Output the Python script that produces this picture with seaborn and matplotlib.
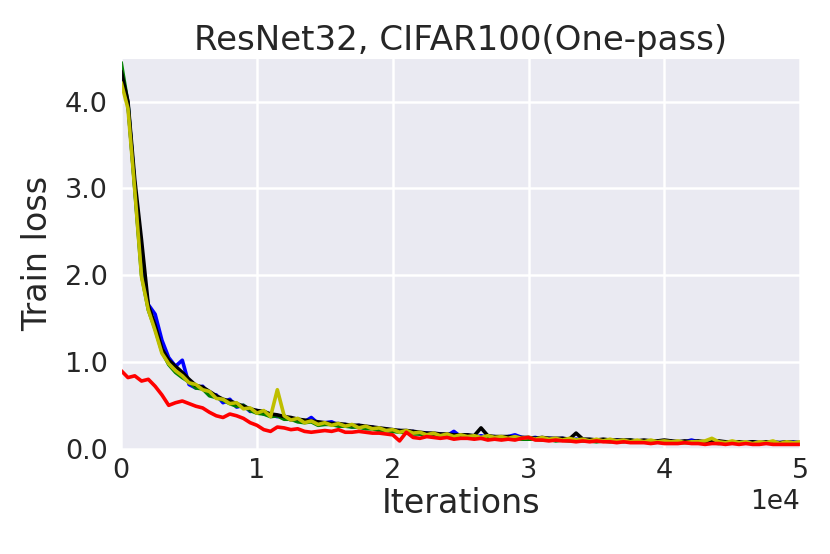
import numpy as np
import matplotlib
matplotlib.use('Agg')
import matplotlib.pyplot as plt
import seaborn as sns

# Iterations (every 500 steps)
iters = np.arange(0, 50001, 500)

blue = [4.30, 3.97, 3.02, 2.05, 1.66, 1.55, 1.25, 1.05, 0.95, 1.02, 0.74,
        0.70, 0.72, 0.62, 0.62, 0.53, 0.57, 0.48, 0.50, 0.43, 0.44,
        0.40, 0.39, 0.37, 0.38, 0.33, 0.34, 0.31, 0.36, 0.29, 0.30,
        0.31, 0.27, 0.28, 0.25, 0.27, 0.24, 0.25, 0.22, 0.23, 0.20,
        0.21, 0.18, 0.20, 0.17, 0.18, 0.16, 0.17, 0.15, 0.20, 0.14,
        0.16, 0.13, 0.15, 0.13, 0.14, 0.12, 0.14, 0.16, 0.13, 0.12,
        0.13, 0.11, 0.12, 0.11, 0.12, 0.10, 0.11, 0.10, 0.10, 0.09,
        0.10, 0.09, 0.10, 0.09, 0.09, 0.08, 0.09, 0.08, 0.09, 0.08,
        0.09, 0.08, 0.08, 0.10, 0.08, 0.08, 0.07, 0.08, 0.08, 0.07,
        0.08, 0.07, 0.08, 0.07, 0.07, 0.08, 0.07, 0.07, 0.08, 0.07]

green = [4.45, 3.98, 3.00, 2.00, 1.60, 1.38, 1.12, 0.97, 0.88, 0.82, 0.77,
         0.70, 0.69, 0.61, 0.59, 0.56, 0.52, 0.49, 0.50, 0.44, 0.41,
         0.40, 0.37, 0.38, 0.34, 0.34, 0.31, 0.30, 0.31, 0.27, 0.28,
         0.28, 0.26, 0.26, 0.25, 0.25, 0.23, 0.23, 0.21, 0.21, 0.20,
         0.19, 0.19, 0.17, 0.17, 0.16, 0.16, 0.15, 0.14, 0.14, 0.13,
         0.14, 0.13, 0.12, 0.13, 0.12, 0.12, 0.11, 0.12, 0.11, 0.11,
         0.11, 0.10, 0.11, 0.09, 0.10, 0.09, 0.10, 0.09, 0.09, 0.08,
         0.09, 0.08, 0.09, 0.08, 0.10, 0.08, 0.08, 0.07, 0.08, 0.07,
         0.08, 0.07, 0.07, 0.07, 0.08, 0.07, 0.07, 0.06, 0.07, 0.07,
         0.06, 0.07, 0.06, 0.06, 0.07, 0.06, 0.06, 0.07, 0.06, 0.06]

black = [4.35, 4.00, 3.10, 2.40, 1.65, 1.42, 1.15, 1.02, 0.95, 0.88, 0.80,
         0.73, 0.71, 0.66, 0.61, 0.57, 0.55, 0.52, 0.49, 0.46, 0.44,
         0.43, 0.40, 0.39, 0.37, 0.36, 0.34, 0.33, 0.32, 0.31, 0.30,
         0.29, 0.29, 0.28, 0.27, 0.27, 0.26, 0.25, 0.24, 0.23, 0.22,
         0.21, 0.21, 0.20, 0.19, 0.18, 0.18, 0.17, 0.17, 0.16, 0.16,
         0.16, 0.15, 0.24, 0.15, 0.14, 0.14, 0.14, 0.13, 0.13, 0.13,
         0.12, 0.13, 0.12, 0.12, 0.12, 0.11, 0.18, 0.11, 0.11, 0.10,
         0.11, 0.10, 0.10, 0.10, 0.10, 0.09, 0.10, 0.09, 0.09, 0.10,
         0.09, 0.08, 0.09, 0.08, 0.09, 0.08, 0.08, 0.09, 0.08, 0.08,
         0.08, 0.07, 0.08, 0.07, 0.08, 0.07, 0.07, 0.08, 0.07, 0.07]

yellow = [4.22, 3.92, 2.98, 1.98, 1.60, 1.36, 1.10, 0.98, 0.90, 0.84, 0.76,
          0.74, 0.68, 0.66, 0.58, 0.57, 0.52, 0.53, 0.46, 0.47, 0.41,
          0.44, 0.37, 0.68, 0.38, 0.33, 0.35, 0.30, 0.32, 0.28, 0.30,
          0.27, 0.29, 0.26, 0.28, 0.24, 0.26, 0.23, 0.24, 0.21, 0.22,
          0.19, 0.21, 0.18, 0.19, 0.16, 0.18, 0.15, 0.17, 0.14, 0.16,
          0.14, 0.15, 0.13, 0.15, 0.13, 0.14, 0.12, 0.14, 0.12, 0.13,
          0.11, 0.13, 0.11, 0.12, 0.10, 0.12, 0.10, 0.11, 0.09, 0.11,
          0.09, 0.11, 0.09, 0.10, 0.08, 0.10, 0.08, 0.10, 0.08, 0.09,
          0.08, 0.09, 0.07, 0.08, 0.08, 0.09, 0.12, 0.08, 0.07, 0.09,
          0.07, 0.08, 0.06, 0.08, 0.07, 0.09, 0.06, 0.08, 0.07, 0.08]

red = [0.90, 0.82, 0.84, 0.78, 0.80, 0.72, 0.62, 0.50, 0.53, 0.55, 0.52,
       0.49, 0.47, 0.42, 0.38, 0.36, 0.40, 0.38, 0.35, 0.30, 0.27,
       0.22, 0.20, 0.25, 0.24, 0.22, 0.23, 0.20, 0.19, 0.20, 0.21,
       0.20, 0.22, 0.19, 0.19, 0.20, 0.19, 0.18, 0.18, 0.17, 0.16,
       0.09, 0.19, 0.13, 0.12, 0.14, 0.13, 0.12, 0.13, 0.11, 0.12,
       0.12, 0.11, 0.12, 0.10, 0.11, 0.10, 0.11, 0.10, 0.12, 0.13,
       0.10, 0.10, 0.09, 0.10, 0.09, 0.09, 0.08, 0.09, 0.08, 0.09,
       0.08, 0.08, 0.07, 0.08, 0.07, 0.07, 0.07, 0.06, 0.07, 0.06,
       0.06, 0.06, 0.07, 0.06, 0.06, 0.05, 0.06, 0.06, 0.05, 0.06,
       0.05, 0.06, 0.05, 0.05, 0.06, 0.05, 0.05, 0.05, 0.05, 0.05]

series = [(blue, 'b'), (green, 'g'), (black, 'k'), (yellow, 'y'), (red, 'r')]

sns.set_style('darkgrid')

fig, ax = plt.subplots(figsize=(8.3, 5.54), dpi=100)
fig.subplots_adjust(left=0.146, right=0.964, top=0.895, bottom=0.19)

for vals, col in series:
    sns.lineplot(x=iters, y=vals, color=col, linewidth=2.6, ax=ax)

ax.grid(True, color='white', linewidth=1.8)
ax.set_xlim(0, 50000)
ax.set_ylim(0, 4.5)
ax.set_yticks([0, 1, 2, 3, 4])
ax.set_yticklabels(['0.0', '1.0', '2.0', '3.0', '4.0'])
ax.ticklabel_format(axis='x', style='sci', scilimits=(0, 0))
ax.tick_params(labelsize=19.5, colors='.15')
ax.tick_params(axis='y', pad=6)
ax.xaxis.get_offset_text().set_fontsize(19)

ax.set_title('ResNet32, CIFAR100(One-pass)', fontsize=24.5, color='.15')
ax.set_xlabel('Iterations', fontsize=24, color='.15', labelpad=2)
ax.set_ylabel('Train loss', fontsize=24, color='.15', labelpad=8)

plt.savefig('out.png')
